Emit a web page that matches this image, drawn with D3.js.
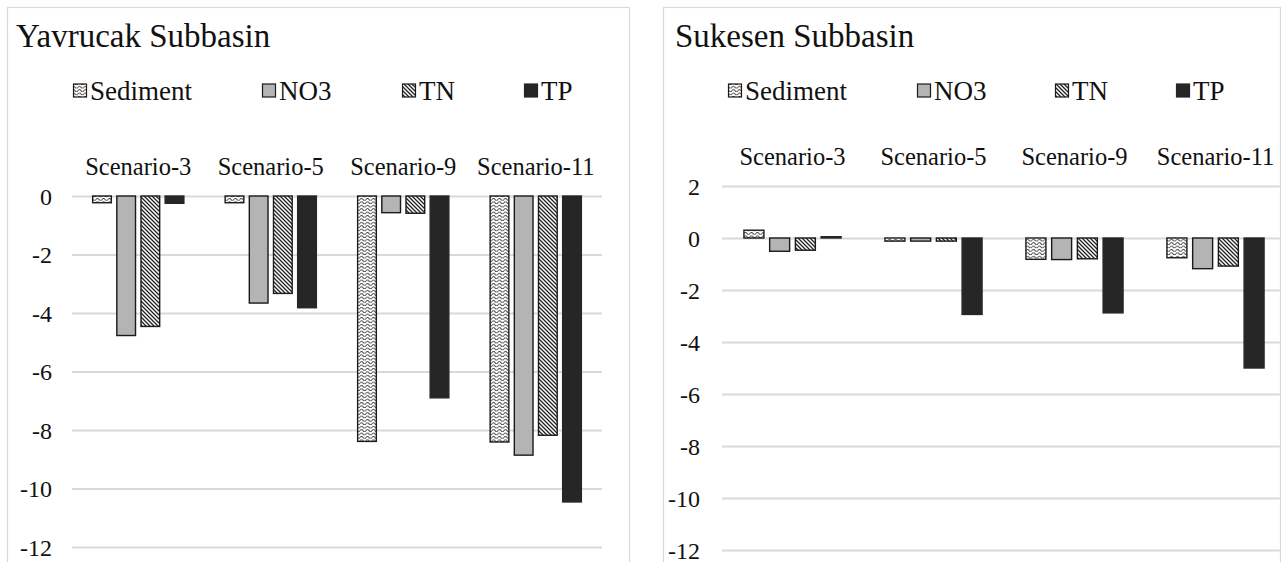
<!DOCTYPE html>
<html>
<head>
<meta charset="utf-8">
<script src="https://cdn.jsdelivr.net/npm/d3@7"></script>
<style>
  html, body { margin: 0; padding: 0; background: #fff; }
  svg { display: block; font-family: "Liberation Serif", "Times New Roman", serif; }
</style>
</head>
<body>
<svg id="chart" width="1281" height="562"></svg>
<script>
// Scenario groups and pollutant series
const categories = ["Scenario-3", "Scenario-5", "Scenario-9", "Scenario-11"];
const seriesNames = ["Sediment", "NO3", "TN", "TP"];

// Yavrucak Subbasin: change per pollutant for each scenario
const yavrucakSediment = [-0.23, -0.23, -8.39, -8.41];
const yavrucakNO3      = [-4.77, -3.66, -0.57, -8.86];
const yavrucakTN       = [-4.46, -3.33, -0.59, -8.18];
const yavrucakTP       = [-0.25, -3.82, -6.90, -10.46];

// Sukesen Subbasin: change per pollutant for each scenario
const sukesenSediment = [0.30, -0.12, -0.82, -0.76];
const sukesenNO3      = [-0.51, -0.12, -0.83, -1.18];
const sukesenTN       = [-0.47, -0.12, -0.80, -1.08];
const sukesenTP       = [0.05, -2.94, -2.88, -5.00];

// Axis ticks
const yavrucakTicks = [0, -2, -4, -6, -8, -10, -12];
const sukesenTicks  = [2, 0, -2, -4, -6, -8, -10, -12];

const SERIF = "'Liberation Serif', 'Times New Roman', serif";
const svg = d3.select("#chart");

// Fill patterns
const defs = svg.append("defs");
const wave = defs.append("pattern")
  .attr("id", "pat-wave").attr("patternUnits", "userSpaceOnUse")
  .attr("width", 6).attr("height", 3.4);
wave.append("rect").attr("width", 6).attr("height", 3.4).attr("fill", "#fff");
wave.append("path")
  .attr("d", "M0,2.2 Q1.5,0.3 3,2.2 T6,2.2")
  .attr("fill", "none").attr("stroke", "#3a3a3a").attr("stroke-width", 0.9);

const hatch = defs.append("pattern")
  .attr("id", "pat-hatch").attr("patternUnits", "userSpaceOnUse")
  .attr("width", 4).attr("height", 4);
hatch.append("rect").attr("width", 4).attr("height", 4).attr("fill", "#fff");
hatch.append("path")
  .attr("d", "M-1,-1 L5,5 M-1,3 L1,5 M3,-1 L5,1")
  .attr("stroke", "#222").attr("stroke-width", 1.3);

const seriesStyle = {
  "Sediment": { fill: "url(#pat-wave)", stroke: "#1a1a1a" },
  "NO3":      { fill: "#b4b4b4",        stroke: "#1a1a1a" },
  "TN":       { fill: "url(#pat-hatch)", stroke: "#1a1a1a" },
  "TP":       { fill: "#262626",        stroke: "#262626" }
};

const panels = [
  {
    title: "Yavrucak Subbasin",
    values: [yavrucakSediment, yavrucakNO3, yavrucakTN, yavrucakTP],
    ticks: yavrucakTicks,
    domain: [-12, 0],
    box: { x0: 7, x1: 629, y0: 7 },
    plot: { x0: 72, x1: 602, yTop: 196, yBottom: 547 },
    titleX: 16,
    tickRight: 52,
    catY: 167,
    legendX: [73, 262, 402, 524]
  },
  {
    title: "Sukesen Subbasin",
    values: [sukesenSediment, sukesenNO3, sukesenTN, sukesenTP],
    ticks: sukesenTicks,
    domain: [-12, 2],
    box: { x0: 663, x1: 1280, y0: 7 },
    plot: { x0: 722, x1: 1286, yTop: 186, yBottom: 550 },
    titleX: 675,
    tickRight: 700,
    catY: 157,
    legendX: [728, 917, 1055, 1176]
  }
];

panels.forEach(p => {
  const g = svg.append("g").attr("font-family", SERIF);

  // Chart frame
  g.append("rect")
    .attr("x", p.box.x0 + 0.5).attr("y", p.box.y0 + 0.5)
    .attr("width", p.box.x1 - p.box.x0).attr("height", 600)
    .attr("fill", "#fff").attr("stroke", "#d9d9d9").attr("stroke-width", 1.2);

  // Title
  g.append("text")
    .attr("x", p.titleX).attr("y", 36)
    .attr("dominant-baseline", "central")
    .attr("font-size", 33).attr("fill", "#111")
    .text(p.title);

  // Legend
  seriesNames.forEach((name, i) => {
    const lx = p.legendX[i];
    g.append("rect")
      .attr("x", lx + 0.5).attr("y", 84)
      .attr("width", 13).attr("height", 13)
      .attr("fill", seriesStyle[name].fill)
      .attr("stroke", seriesStyle[name].stroke).attr("stroke-width", 1.2);
    g.append("text")
      .attr("x", lx + 17).attr("y", 91)
      .attr("dominant-baseline", "central")
      .attr("font-size", 27).attr("fill", "#111")
      .text(name);
  });

  const y = d3.scaleLinear().domain(p.domain).range([p.plot.yBottom, p.plot.yTop]);
  const x0 = d3.scaleBand().domain(categories).range([p.plot.x0, p.plot.x1]).paddingInner(0).paddingOuter(0);
  const bw = x0.bandwidth();
  const x1 = d3.scaleBand().domain(seriesNames)
    .range([bw * 0.152, bw * 0.848]).paddingInner(0.185).paddingOuter(0);

  // Gridlines and value labels
  const yAxis = d3.axisLeft(y).tickValues(p.ticks).tickSize(-(p.plot.x1 - p.plot.x0)).tickPadding(0)
    .tickFormat(d => String(d));
  const ax = g.append("g").attr("transform", `translate(${p.plot.x0},0)`).call(yAxis);
  ax.attr("font-family", SERIF);
  ax.select(".domain").remove();
  ax.selectAll(".tick line").attr("stroke", "#d9d9d9").attr("stroke-width", 1.8);
  ax.selectAll(".tick text")
    .attr("x", p.tickRight - p.plot.x0)
    .attr("dy", "0.34em")
    .attr("font-size", 24).attr("fill", "#111")
    .attr("text-anchor", "end");

  // Category labels above the plot
  const xAxis = d3.axisTop(x0).tickSize(0).tickPadding(0);
  const cx = g.append("g").attr("transform", `translate(0,${p.catY})`).call(xAxis);
  cx.attr("font-family", SERIF);
  cx.select(".domain").remove();
  cx.selectAll(".tick text")
    .attr("y", 0).attr("dy", "0.34em")
    .attr("font-size", 24.5).attr("fill", "#111");

  // Bars
  const rows = [];
  categories.forEach((c, ci) => {
    seriesNames.forEach((s, si) => rows.push({ c, s, v: p.values[si][ci] }));
  });
  g.append("g").selectAll("rect").data(rows).join("rect")
    .attr("x", d => x0(d.c) + x1(d.s) + 0.5)
    .attr("width", x1.bandwidth() - 1)
    .attr("y", d => y(Math.max(0, d.v)))
    .attr("height", d => Math.abs(y(d.v) - y(0)))
    .attr("fill", d => seriesStyle[d.s].fill)
    .attr("stroke", d => seriesStyle[d.s].stroke)
    .attr("stroke-width", 1.4);
});
</script>
</body>
</html>
